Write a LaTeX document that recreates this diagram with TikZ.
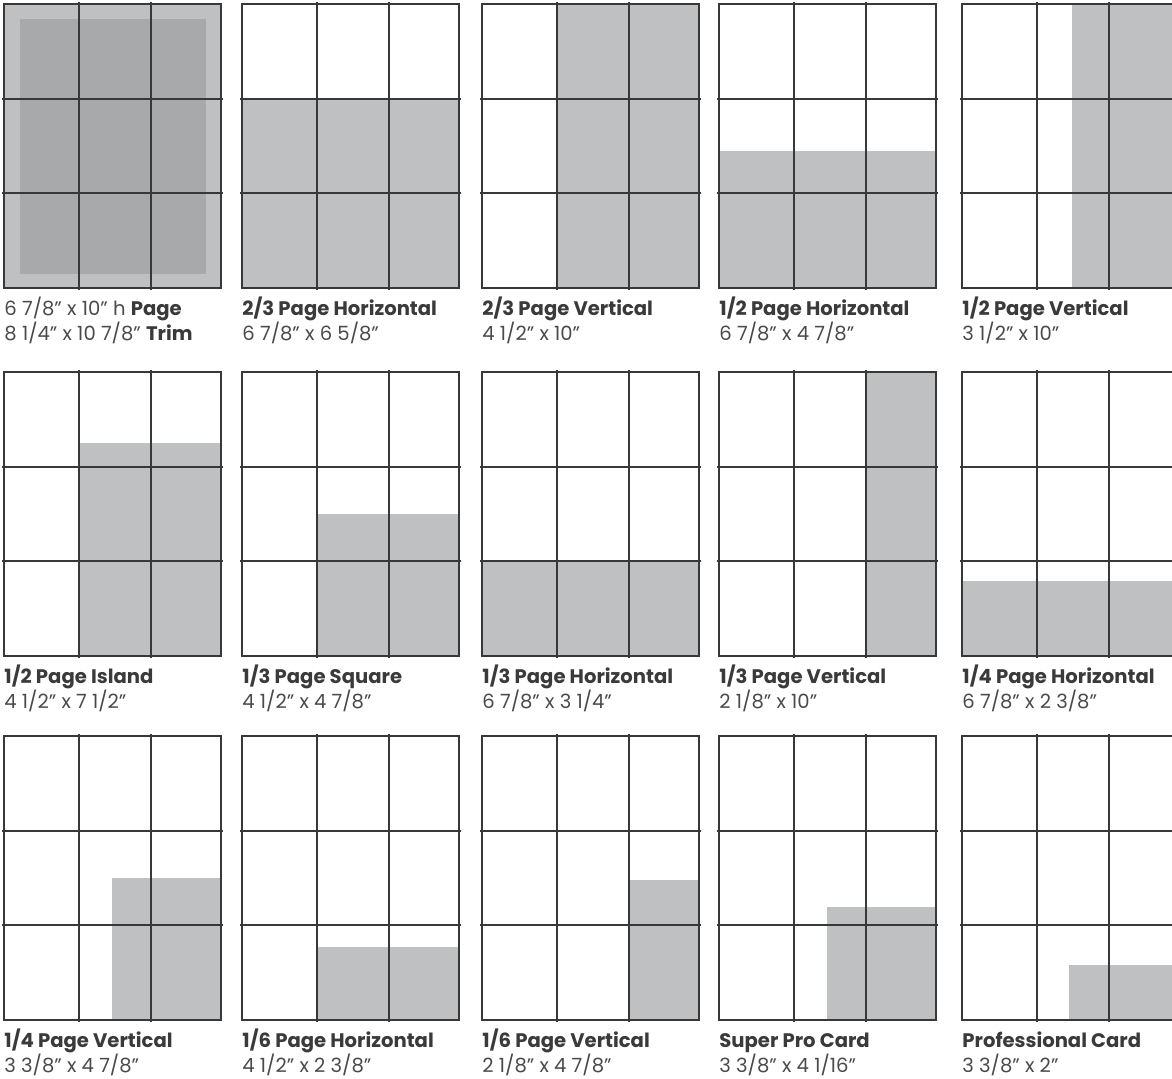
\documentclass[tikz,border=0pt]{standalone}
\usepackage{fontspec}
\setmainfont{Poppins}

\definecolor{adline}{HTML}{383838}
\definecolor{adgray}{HTML}{BFC0C2}
\definecolor{addark}{HTML}{A8A9AB}
\definecolor{adtext}{HTML}{3A3A3A}
\definecolor{adsize}{HTML}{4A4A4A}

% one ad layout: [extra fill]{name}{left}{top}{shade left}{shade top}{title}{size}
\newcommand{\adpage}[8][]{%
  \begin{scope}[shift={(#3,#4)}]
    \fill[adshade] (#5,#6) rectangle (217,284);
    #1
    \draw[adgrid] (-2,95) -- (219,95) (-2,189) -- (219,189)
      (74.5,-2) -- (74.5,286) (146.5,-2) -- (146.5,286);
    \draw[adframe] (0,0) rectangle (217,284);
    \node[adtitle] (#2-title) at (0,311) {#7};
    \node[adsize] (#2-size) at (0,336) {#8};
  \end{scope}}

\begin{document}
\begin{tikzpicture}[x=0.5pt,y=-0.5pt,
   adframe/.style={draw=adline,line width=1.2pt},
   adgrid/.style={draw=adline,line width=1pt},
   adshade/.style={fill=adgray},
   adtitle/.style={anchor=base west,inner sep=0pt,text=adtext,
     font=\fontsize{9.8}{11}\selectfont\bfseries},
   adsize/.style={anchor=base west,inner sep=0pt,text=adsize,
     font=\fontsize{9.8}{11}\selectfont}]
  \useasboundingbox (0,0) rectangle (1172,1078);
  \clip (0,0) rectangle (1172,1078);

  % row 1
  \adpage[{\fill[addark] (16,15) rectangle (202,270);}]{page}{4}{4}{0}{0}
    {\mdseries\color{adsize}6 7/8'' x 10'' h \textcolor{adtext}{\bfseries Page}}
    {8 1/4'' x 10 7/8'' \textcolor{adtext}{\bfseries Trim}}
  \adpage{twothirdsh}{242}{4}{0}{95}{2/3 Page Horizontal}{6 7/8'' x 6 5/8''}
  \adpage{twothirdsv}{482}{4}{74.5}{0}{2/3 Page Vertical}{4 1/2'' x 10''}
  \adpage{halfh}{719}{4}{0}{147}{1/2 Page Horizontal}{6 7/8'' x 4 7/8''}
  \adpage{halfv}{962}{4}{110}{0}{1/2 Page Vertical}{3 1/2'' x 10''}

  % row 2
  \adpage{island}{4}{372}{74.5}{71}{1/2 Page Island}{4 1/2'' x 7 1/2''}
  \adpage{thirdsq}{242}{372}{74.5}{142}{1/3 Page Square}{4 1/2'' x 4 7/8''}
  \adpage{thirdh}{482}{372}{0}{189}{1/3 Page Horizontal}{6 7/8'' x 3 1/4''}
  \adpage{thirdv}{719}{372}{146.5}{0}{1/3 Page Vertical}{2 1/8'' x 10''}
  \adpage{quarterh}{962}{372}{0}{209}{1/4 Page Horizontal}{6 7/8'' x 2 3/8''}

  % row 3
  \adpage{quarterv}{4}{736}{108}{142}{1/4 Page Vertical}{3 3/8'' x 4 7/8''}
  \adpage{sixthh}{242}{736}{74.5}{211}{1/6 Page Horizontal}{4 1/2'' x 2 3/8''}
  \adpage{sixthv}{482}{736}{146.5}{144}{1/6 Page Vertical}{2 1/8'' x 4 7/8''}
  \adpage{superpro}{719}{736}{108}{171}{Super Pro Card}{3 3/8'' x 4 1/16''}
  \adpage{procard}{962}{736}{107}{229}{Professional Card}{3 3/8'' x 2''}
\end{tikzpicture}
\end{document}
